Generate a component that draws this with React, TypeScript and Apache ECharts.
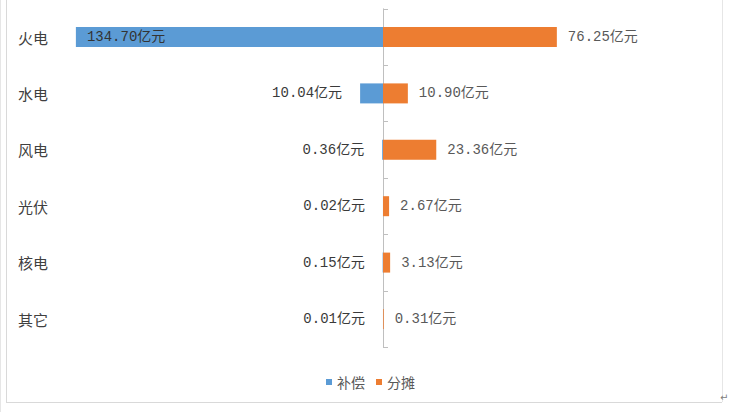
import React, { useEffect, useRef } from "react";
import * as echarts from "echarts";

const categories = ["火电", "水电", "风电", "光伏", "核电", "其它"];
const compensation = [134.7, 10.04, 0.36, 0.02, 0.15, 0.01];
const allocation = [76.25, 10.9, 23.36, 2.67, 3.13, 0.31];
const seriesNames = ["补偿", "分摊"];
const unit = "亿元";

const CJK = "'Noto Sans CJK SC', 'Noto Sans', sans-serif";
const NUM = "'Liberation Mono', 'Noto Sans CJK SC', monospace";

export default function App() {
  const ref = useRef<HTMLDivElement>(null);
  useEffect(() => {
    if (!ref.current) return;
    const chart = echarts.init(ref.current, undefined, { renderer: "svg" });
    const fmt = (p: any) => Math.abs(Number(p.value)).toFixed(2) + unit;
    chart.setOption({
      animation: false,
      backgroundColor: "#ffffff",
      grid: {
        left: 41,
        width: 684,
        top: 8.8,
        height: 338.4,
        containLabel: false,
        outerBoundsMode: "none",
      },
      xAxis: {
        type: "value",
        min: -150,
        max: 150,
        show: false,
        splitLine: { show: false },
      },
      yAxis: {
        type: "category",
        data: categories,
        inverse: true,
        axisLine: { show: true, onZero: true, lineStyle: { color: "#bfbfbf", width: 1 } },
        axisTick: { show: true, inside: true, length: 5, lineStyle: { color: "#bfbfbf" } },
        axisLabel: {
          align: "left",
          margin: 23,
          fontSize: 15,
          color: "#404040",
          fontFamily: CJK,
        },
      },
      legend: {
        data: seriesNames,
        left: 321,
        top: 370,
        icon: "rect",
        itemWidth: 6,
        itemHeight: 6,
        itemGap: 11,
        textStyle: { fontSize: 14, color: "#595959", fontFamily: CJK },
      },
      series: [
        {
          name: seriesNames[0],
          type: "bar",
          barWidth: 20,
          barGap: "-100%",
          itemStyle: { color: "#5B9BD5" },
          data: compensation.map((v, i) =>
            i === 0
              ? {
                  value: -v,
                  label: { position: "insideLeft", distance: 11, color: "#333333" },
                }
              : -v
          ),
          label: {
            show: true,
            position: "left",
            distance: 18,
            formatter: fmt,
            fontSize: 14,
            fontFamily: NUM,
            color: "#3a3a3a",
          },
        },
        {
          name: seriesNames[1],
          type: "bar",
          barWidth: 20,
          barGap: "-100%",
          itemStyle: { color: "#ED7D31" },
          data: allocation,
          label: {
            show: true,
            position: "right",
            distance: 11,
            formatter: fmt,
            fontSize: 14,
            fontFamily: NUM,
            color: "#595959",
          },
        },
      ],
      graphic: [
        { type: "line", shape: { x1: 0.5, y1: 0, x2: 0.5, y2: 412 }, style: { stroke: "#e6e6e6", lineWidth: 1 } },
        { type: "line", shape: { x1: 6.5, y1: 0, x2: 6.5, y2: 402 }, style: { stroke: "#d9d9d9", lineWidth: 1 } },
        { type: "line", shape: { x1: 6, y1: 402.5, x2: 722, y2: 402.5 }, style: { stroke: "#d9d9d9", lineWidth: 1 } },
        { type: "line", shape: { x1: 722.5, y1: 0, x2: 722.5, y2: 402 }, style: { stroke: "#e6e6e6", lineWidth: 1 } },
        {
          type: "text",
          x: 720,
          y: 392,
          style: { text: "↵", fontSize: 10, fill: "#808080", fontFamily: "'DejaVu Sans', sans-serif" },
        },
      ],
    });
    return () => chart.dispose();
  }, []);
  return (
    <div
      ref={ref}
      style={{ position: "absolute", left: 0, top: 0, width: 731, height: 412 }}
    />
  );
}
